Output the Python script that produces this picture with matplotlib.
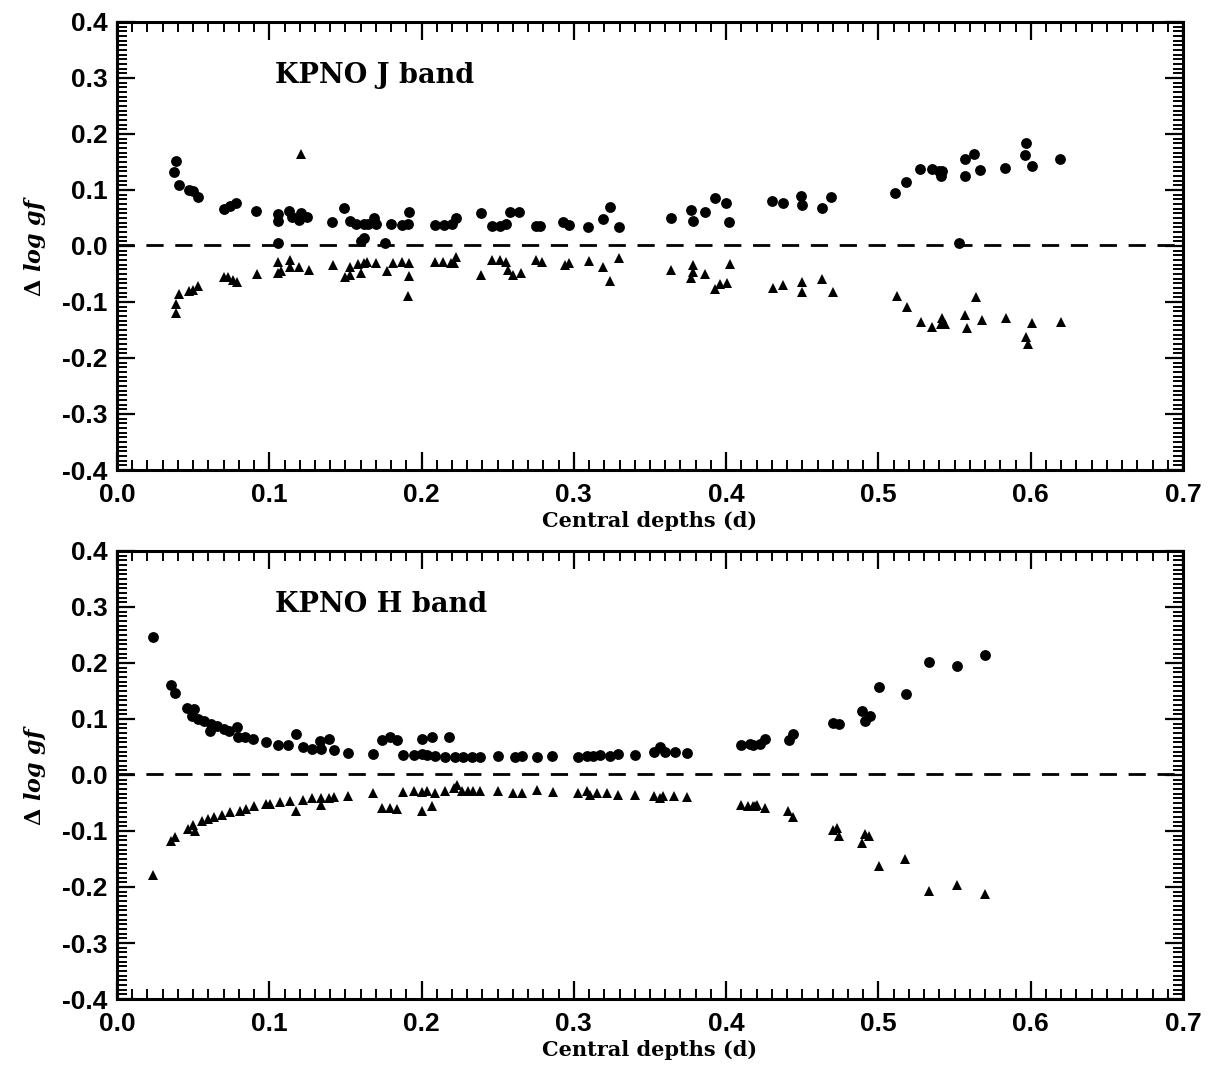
import matplotlib
matplotlib.use("Agg")
import matplotlib.pyplot as plt
from matplotlib.ticker import MultipleLocator, FormatStrFormatter
from matplotlib.font_manager import FontProperties

# ---------------- data: KPNO J band ----------------
j_circ_x = [0.0377, 0.039, 0.041, 0.047, 0.050, 0.053, 0.070, 0.074, 0.078, 0.091,
            0.106, 0.106, 0.113, 0.115, 0.121, 0.125, 0.1195, 0.106, 0.141, 0.149,
            0.153, 0.157, 0.162, 0.165, 0.169, 0.170, 0.162, 0.160, 0.176, 0.180,
            0.187, 0.191, 0.192, 0.209, 0.215, 0.220, 0.2226, 0.239, 0.246, 0.2515,
            0.2554, 0.258, 0.264, 0.275, 0.278, 0.293, 0.297, 0.3095, 0.319, 0.324,
            0.3296, 0.3635, 0.377, 0.378, 0.386, 0.393, 0.400, 0.402, 0.4299, 0.4375,
            0.449, 0.4495, 0.4627, 0.469, 0.511, 0.518, 0.527, 0.535, 0.540, 0.542,
            0.5414, 0.557, 0.563, 0.557, 0.567, 0.583, 0.597, 0.596, 0.601, 0.619,
            0.553]
j_circ_y = [0.132, 0.152, 0.109, 0.100, 0.098, 0.088, 0.066, 0.071, 0.077, 0.0625,
            0.057, 0.045, 0.063, 0.051, 0.058, 0.052, 0.046, 0.005, 0.042, 0.067,
            0.045, 0.040, 0.039, 0.040, 0.050, 0.039, 0.014, 0.008, 0.005, 0.039,
            0.037, 0.039, 0.060, 0.0375, 0.0375, 0.039, 0.0506, 0.058, 0.036, 0.036,
            0.040, 0.060, 0.060, 0.036, 0.036, 0.043, 0.0375, 0.034, 0.048, 0.069,
            0.034, 0.049, 0.065, 0.045, 0.060, 0.085, 0.076, 0.042, 0.080, 0.076,
            0.090, 0.073, 0.067, 0.088, 0.094, 0.114, 0.137, 0.137, 0.134, 0.134,
            0.125, 0.155, 0.165, 0.125, 0.136, 0.140, 0.183, 0.1625, 0.1435, 0.155,
            0.005]

j_tri_x = [0.1206, 0.106, 0.106, 0.108, 0.1136, 0.1136, 0.1197, 0.126, 0.142, 0.150,
           0.153, 0.153, 0.158, 0.160, 0.162, 0.164, 0.170, 0.177, 0.181, 0.187,
           0.192, 0.192, 0.191, 0.209, 0.092, 0.070, 0.073, 0.076, 0.0786, 0.041,
           0.0385, 0.039, 0.047, 0.050, 0.053, 0.214, 0.219, 0.2226, 0.221, 0.239,
           0.246, 0.2515, 0.2554, 0.257, 0.260, 0.265, 0.275, 0.279, 0.294, 0.297,
           0.310, 0.319, 0.324, 0.3298, 0.364, 0.378, 0.378, 0.377, 0.386, 0.3926,
           0.396, 0.4007, 0.4025, 0.4305, 0.4375, 0.450, 0.450, 0.463, 0.470, 0.512,
           0.5185, 0.528, 0.535, 0.542, 0.5414, 0.544, 0.557, 0.558, 0.564, 0.5677,
           0.584, 0.601, 0.597, 0.598, 0.620]
j_tri_y = [0.165, -0.028, -0.049, -0.044, -0.025, -0.037, -0.038, -0.043, -0.034, -0.056,
           -0.052, -0.037, -0.032, -0.049, -0.031, -0.028, -0.030, -0.045, -0.030, -0.028,
           -0.030, -0.054, -0.089, -0.028, -0.050, -0.055, -0.056, -0.060, -0.065, -0.086,
           -0.104, -0.119, -0.080, -0.079, -0.071, -0.028, -0.030, -0.019, -0.031, -0.052,
           -0.025, -0.025, -0.028, -0.043, -0.052, -0.049, -0.025, -0.028, -0.034, -0.030,
           -0.026, -0.037, -0.062, -0.022, -0.043, -0.034, -0.046, -0.058, -0.050, -0.076,
           -0.068, -0.067, -0.032, -0.0745, -0.0697, -0.0637, -0.083, -0.0595, -0.082, -0.089,
           -0.1095, -0.135, -0.144, -0.129, -0.139, -0.139, -0.123, -0.147, -0.092, -0.132,
           -0.129, -0.137, -0.162, -0.175, -0.135]

# ---------------- data: KPNO H band ----------------
h_circ_x = [0.0234, 0.0355, 0.038, 0.0458, 0.0508, 0.049, 0.0534, 0.057, 0.061, 0.0617,
            0.0654, 0.070, 0.0737, 0.079, 0.0797, 0.084, 0.0895, 0.098, 0.106, 0.1125,
            0.1175, 0.1223, 0.128, 0.133, 0.1337, 0.139, 0.1427, 0.152, 0.168, 0.174,
            0.179, 0.1836, 0.1876, 0.195, 0.200, 0.200, 0.2066, 0.2033, 0.2088, 0.218,
            0.2154, 0.222, 0.2274, 0.2329, 0.2383, 0.2504, 0.2613, 0.2657, 0.2756, 0.2854,
            0.3029, 0.3084, 0.3127, 0.3171, 0.3237, 0.3292, 0.340, 0.3526, 0.3565, 0.3598,
            0.3664, 0.374, 0.410, 0.4156, 0.4178, 0.422, 0.4255, 0.4412, 0.444, 0.470,
            0.474, 0.489, 0.491, 0.4945, 0.5003, 0.518, 0.533, 0.5517, 0.570]
h_circ_y = [0.246, 0.160, 0.146, 0.119, 0.1175, 0.106, 0.100, 0.097, 0.079, 0.091,
            0.087, 0.082, 0.079, 0.085, 0.0675, 0.0675, 0.0646, 0.059, 0.054, 0.054,
            0.0723, 0.050, 0.047, 0.060, 0.047, 0.0646, 0.044, 0.040, 0.038, 0.0617,
            0.0675, 0.0617, 0.0353, 0.0353, 0.038, 0.0635, 0.0675, 0.0353, 0.034, 0.0675,
            0.0323, 0.0323, 0.0323, 0.0323, 0.0323, 0.034, 0.0323, 0.034, 0.0323, 0.034,
            0.0323, 0.034, 0.034, 0.036, 0.034, 0.038, 0.035, 0.041, 0.050, 0.041,
            0.041, 0.040, 0.054, 0.0558, 0.053, 0.0558, 0.0635, 0.063, 0.0734, 0.092,
            0.091, 0.1134, 0.097, 0.1046, 0.157, 0.144, 0.201, 0.194, 0.2146]

h_tri_x = [0.0234, 0.0355, 0.038, 0.0468, 0.051, 0.050, 0.0556, 0.060, 0.064, 0.0687,
           0.0742, 0.0808, 0.085, 0.090, 0.0976, 0.1005, 0.107, 0.1136, 0.1175, 0.1223,
           0.128, 0.1337, 0.1337, 0.139, 0.1427, 0.152, 0.168, 0.174, 0.179, 0.1836,
           0.188, 0.195, 0.200, 0.200, 0.2066, 0.2033, 0.2088, 0.2154, 0.221, 0.223,
           0.2264, 0.2307, 0.234, 0.2383, 0.2504, 0.2602, 0.2657, 0.2756, 0.2865, 0.3029,
           0.3084, 0.3106, 0.315, 0.3215, 0.3287, 0.340, 0.3526, 0.3565, 0.3587, 0.366,
           0.374, 0.410, 0.4145, 0.419, 0.4178, 0.420, 0.4255, 0.4408, 0.4437, 0.470,
           0.4727, 0.474, 0.489, 0.491, 0.494, 0.5003, 0.5176, 0.533, 0.5513, 0.570]
h_tri_y = [-0.178, -0.1176, -0.1106, -0.097, -0.100, -0.0894, -0.0824, -0.079, -0.0753, -0.0718,
           -0.066, -0.0635, -0.060, -0.056, -0.052, -0.052, -0.048, -0.047, -0.065, -0.044,
           -0.042, -0.053, -0.041, -0.041, -0.040, -0.038, -0.0324, -0.059, -0.059, -0.060,
           -0.0306, -0.0294, -0.0306, -0.0635, -0.056, -0.0294, -0.0324, -0.028, -0.0224, -0.0176,
           -0.0294, -0.028, -0.0294, -0.028, -0.0294, -0.0324, -0.0324, -0.0265, -0.031, -0.0324,
           -0.0294, -0.0365, -0.0324, -0.0324, -0.0365, -0.0353, -0.038, -0.042, -0.038, -0.038,
           -0.040, -0.054, -0.056, -0.056, -0.056, -0.053, -0.059, -0.0647, -0.075, -0.099,
           -0.095, -0.109, -0.122, -0.106, -0.109, -0.162, -0.150, -0.207, -0.197, -0.213]

panel_titles = ["KPNO J band", "KPNO H band"]
x_label = "Central depths (d)"
x_limits = (0.0, 0.7)
y_limits = (-0.4, 0.4)

# ---------------- styling ----------------
plt.rcParams['mathtext.fontset'] = 'custom'
plt.rcParams['mathtext.rm'] = 'DejaVu Serif:bold'
plt.rcParams['mathtext.it'] = 'DejaVu Serif:italic:bold'
plt.rcParams['mathtext.bf'] = 'DejaVu Serif:bold'

fig = plt.figure(figsize=(12.10, 10.67), dpi=100)
ax_top = fig.add_axes([0.0967, 0.5595, 0.881, 0.4200])
ax_bot = fig.add_axes([0.0967, 0.0637, 0.881, 0.4200])

datasets = [
    (ax_top, j_circ_x, j_circ_y, j_tri_x, j_tri_y, panel_titles[0]),
    (ax_bot, h_circ_x, h_circ_y, h_tri_x, h_tri_y, panel_titles[1]),
]

tick_fp = FontProperties(family='Liberation Sans', weight='bold', size=19)

for ax, cx, cy, tx, ty, title in datasets:
    ax.set_xlim(*x_limits)
    ax.set_ylim(*y_limits)
    ax.axhline(0.002, color='black', lw=2.0, dashes=(6.2, 4.2), zorder=1)
    ax.plot(cx, cy, 'o', color='black', ms=7.8, mew=0, zorder=3)
    ax.plot(tx, ty, '^', color='black', ms=7.8, mew=0, zorder=3)

    ax.xaxis.set_major_locator(MultipleLocator(0.1))
    ax.xaxis.set_minor_locator(MultipleLocator(0.01))
    ax.yaxis.set_major_locator(MultipleLocator(0.1))
    ax.yaxis.set_minor_locator(MultipleLocator(0.1 / 12))
    ax.xaxis.set_major_formatter(FormatStrFormatter('%.1f'))
    ax.yaxis.set_major_formatter(FormatStrFormatter('%.1f'))
    ax.tick_params(which='both', direction='in', top=True, right=True, color='black')
    ax.tick_params(which='major', length=13, width=1.6)
    ax.tick_params(which='minor', length=7, width=1.4)
    ax.tick_params(axis='x', which='major', pad=9)
    ax.tick_params(axis='y', which='major', pad=7)
    for lab in ax.get_xticklabels() + ax.get_yticklabels():
        lab.set_fontproperties(tick_fp)
    for sp in ax.spines.values():
        sp.set_linewidth(2.2)

    ax.text(0.1035, 0.305, title, fontsize=19.5, fontweight='bold',
            family='DejaVu Serif', ha='left', va='center')
    ax.set_xlabel(x_label, fontsize=15, fontweight='bold', family='DejaVu Serif',
                  labelpad=3)
    ax.set_ylabel(r'$\Delta\ \mathit{log\ gf}$', fontsize=16, labelpad=10)

fig.savefig('out.png', dpi=100)
